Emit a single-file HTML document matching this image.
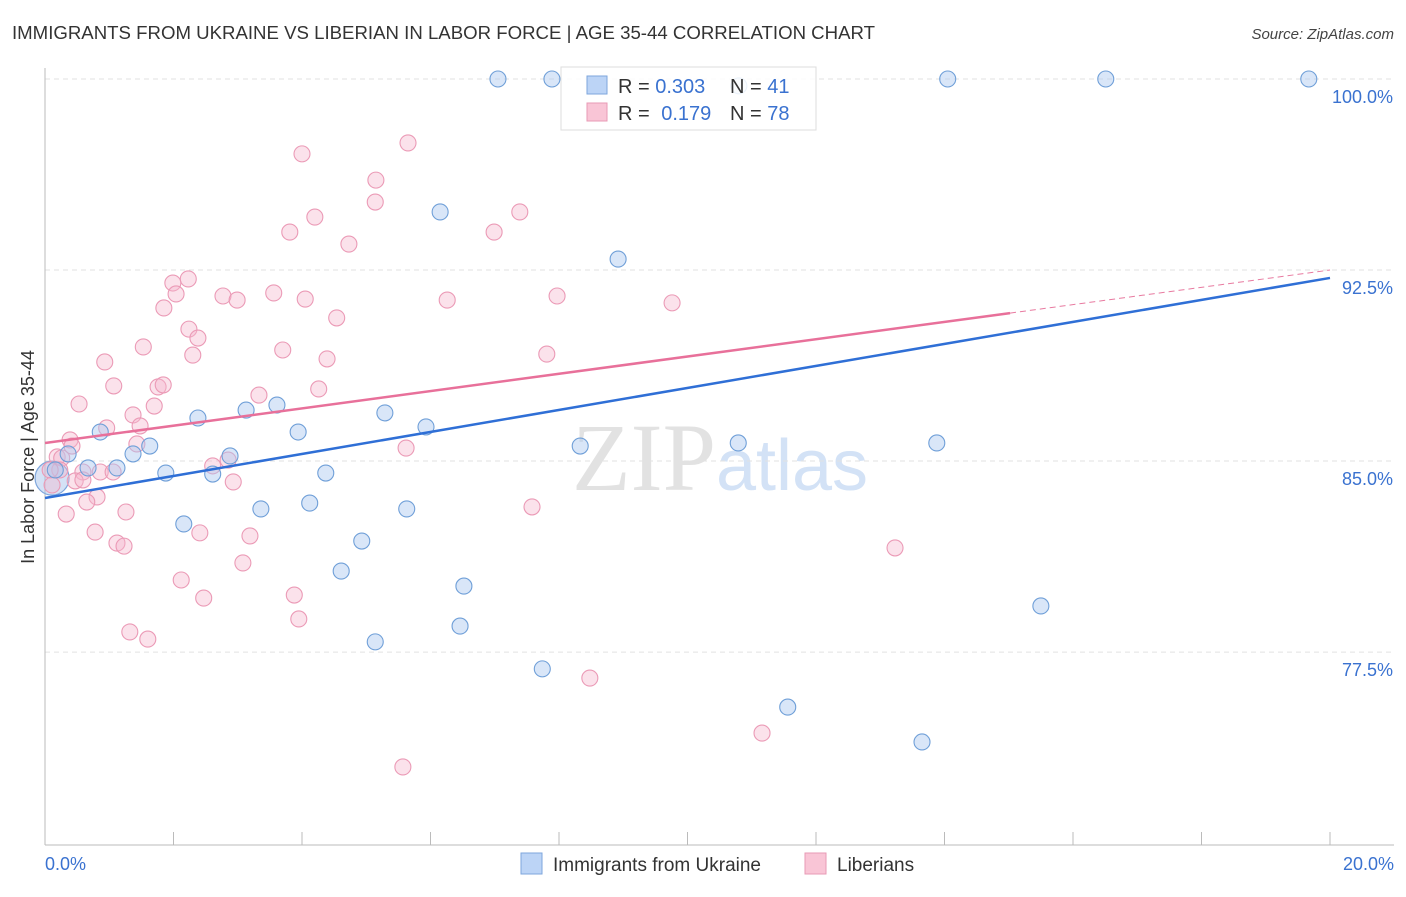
<!DOCTYPE html>
<html><head><meta charset="utf-8"><style>
body{margin:0;background:#fff;font-family:"Liberation Sans",sans-serif;}
svg text{font-family:"Liberation Sans",sans-serif;}
</style></head><body>
<svg id="chart" width="1406" height="892" xmlns="http://www.w3.org/2000/svg">
<text x="12" y="39" font-size="18" fill="#333" textLength="863" lengthAdjust="spacingAndGlyphs">IMMIGRANTS FROM UKRAINE VS LIBERIAN IN LABOR FORCE | AGE 35-44 CORRELATION CHART</text>
<text x="1394" y="39" font-size="15" fill="#444" text-anchor="end" font-style="italic">Source: ZipAtlas.com</text>
<text x="720" y="490" font-size="96" text-anchor="middle"><tspan fill="#e2e2e2" font-family="Liberation Serif">ZIP</tspan><tspan fill="#d3e2f6" font-size="72">atlas</tspan></text>
<g id="grid"></g>
<g id="axes"></g>
<g id="pts"></g>
<g id="lines"></g>
<text transform="translate(34,457) rotate(-90)" font-size="18" fill="#333" text-anchor="middle">In Labor Force | Age 35-44</text>
<text x="45" y="870" font-size="18" fill="#3a72d0">0.0%</text>
<text x="1394" y="870" font-size="18" fill="#3a72d0" text-anchor="end">20.0%</text>
<g>
<rect x="561" y="67" width="255" height="63" fill="#fff" fill-opacity="0.85" stroke="#ddd"/>
<rect x="587" y="76" width="20" height="18" fill="#bcd4f6" stroke="#7ea6dc"/>
<rect x="587" y="103" width="20" height="18" fill="#f9c5d6" stroke="#e89ab5"/>
<text x="618" y="93" font-size="20" fill="#333">R = <tspan fill="#3a72d0">0.303</tspan></text>
<text x="730" y="93" font-size="20" fill="#333">N = <tspan fill="#3a72d0">41</tspan></text>
<text x="618" y="120" font-size="20" fill="#333">R = <tspan fill="#3a72d0" dx="6">0.179</tspan></text>
<text x="730" y="120" font-size="20" fill="#333">N = <tspan fill="#3a72d0">78</tspan></text>
</g>
<g>
<rect x="521" y="853" width="21" height="21" fill="#bcd4f6" stroke="#7ea6dc"/>
<text x="553" y="871" font-size="19" fill="#333">Immigrants from Ukraine</text>
<rect x="805" y="853" width="21" height="21" fill="#f9c5d6" stroke="#e89ab5"/>
<text x="837" y="871" font-size="19" fill="#333">Liberians</text>
</g>
</svg>
<script>
const blueX=[7.05,7.89,14.05,16.51,19.67,10.80,6.15,8.92,0.86,1.63,1.37,0.36,0.67,1.12,1.88,2.38,3.13,3.61,3.94,2.61,2.88,4.37,5.29,5.93,10.79,13.88,2.16,3.36,4.12,5.63,4.93,4.61,6.52,6.46,5.14,7.74,11.56,13.65,15.50,8.33,0.16];
const blueY=[100,100,100,100,100,99.73,94.78,92.93,86.14,85.59,85.28,85.28,84.73,84.73,84.53,86.69,87.00,87.20,86.14,84.49,85.20,84.53,86.89,86.34,85.71,85.71,82.53,83.12,83.35,83.12,81.86,80.68,80.09,78.52,77.90,76.84,75.34,73.97,79.31,85.59,84.65];
const pinkX=[5.65,4.00,5.15,5.14,4.20,3.81,4.73,6.99,7.39,2.23,1.99,2.04,2.77,2.99,3.56,4.05,6.26,7.97,9.76,1.85,2.24,2.38,4.54,1.53,2.30,3.70,4.39,7.81,0.93,1.07,1.76,1.84,4.26,3.33,0.53,1.70,1.37,1.48,0.96,0.39,0.42,1.43,0.19,0.26,0.23,0.59,0.86,1.06,2.61,2.85,0.47,0.59,2.93,5.62,0.81,0.65,1.26,0.33,0.78,2.41,3.19,1.12,1.23,3.08,2.12,2.47,3.88,3.95,1.32,1.60,7.58,13.23,8.48,11.16,5.57,0.08,0.11];
const pinkY=[97.49,97.06,96.03,95.17,94.58,93.99,93.52,93.99,94.78,92.15,91.99,91.56,91.48,91.32,91.60,91.36,91.32,91.48,91.21,91.01,90.18,89.83,90.62,89.48,89.16,89.36,89.01,89.20,88.89,87.95,87.91,87.99,87.83,87.59,87.24,87.16,86.81,86.38,86.30,85.83,85.59,85.67,85.16,85.12,84.65,84.57,84.57,84.57,84.81,85.04,84.22,84.26,84.18,85.51,83.59,83.39,83.00,82.92,82.21,82.18,82.06,81.78,81.66,81.00,80.33,79.62,79.74,78.80,78.29,78.01,83.20,81.59,76.48,74.32,72.99,84.65,84.06];
const yTicks=[100,92.5,85,77.5];
const yTickLabels=["100.0%","92.5%","85.0%","77.5%"];
const blueLine=[83.55,92.19];
const pinkLine=[85.71,92.50];
const pinkSolidEnd=15.02;
const NS="http://www.w3.org/2000/svg";
const X=v=>45+v*64.25, Y=v=>79+(100-v)*25.47;
function mk(tag,attrs,parent){const e=document.createElementNS(NS,tag);for(const k in attrs)e.setAttribute(k,attrs[k]);document.getElementById(parent).appendChild(e);return e;}
yTicks.forEach((t,i)=>{
  const g=mk('line',{x1:45,x2:1394,y1:Y(t),y2:Y(t),stroke:'#e2e2e2','stroke-dasharray':'5,4'},'grid');
  
  
  const l=mk('text',{x:1393,y:Y(t)+24,'font-size':18,fill:'#3a72d0','text-anchor':'end'},'grid');
  l.textContent=yTickLabels[i];
  
  
});
const ax=mk('line',{x1:45,x2:45,y1:68,y2:845,stroke:'#bbb'},'axes');


const bx=mk('line',{x1:45,x2:1394,y1:845,y2:845,stroke:'#bbb'},'axes');


for(let i=0;i<=10;i++){const t=mk('line',{x1:X(i*2),x2:X(i*2),y1:832,y2:845,stroke:'#bbb'},'axes');
  
  }
const big=mk('circle',{cx:X(0.11),cy:Y(84.33),r:17,fill:'rgba(160,190,235,0.45)',stroke:'#7ea6dc','stroke-width':1.2},'pts');


pinkX.forEach((x,i)=>{const c=mk('circle',{cx:X(x),cy:Y(pinkY[i]),r:8,fill:'rgba(246,182,204,0.4)',stroke:'#eb9ab6','stroke-width':1.1},'pts');
  
  });
blueX.forEach((x,i)=>{const c=mk('circle',{cx:X(x),cy:Y(blueY[i]),r:8,fill:'rgba(170,200,240,0.45)',stroke:'#6f9fd8','stroke-width':1.1},'pts');
  
  });
const pAt=x=>pinkLine[0]+(pinkLine[1]-pinkLine[0])*x/20;
const pd=mk('line',{x1:X(pinkSolidEnd),y1:Y(pAt(pinkSolidEnd)),x2:X(20),y2:Y(pinkLine[1]),stroke:'#e87aa0','stroke-width':1,'stroke-dasharray':'6,4'},'lines');


const ps=mk('line',{x1:X(0),y1:Y(pinkLine[0]),x2:X(pinkSolidEnd),y2:Y(pAt(pinkSolidEnd)),stroke:'#e8709a','stroke-width':2.5},'lines');


const bl=mk('line',{x1:X(0),y1:Y(blueLine[0]),x2:X(20),y2:Y(blueLine[1]),stroke:'#2f6fd6','stroke-width':2.5},'lines');


</script>
</body></html>
